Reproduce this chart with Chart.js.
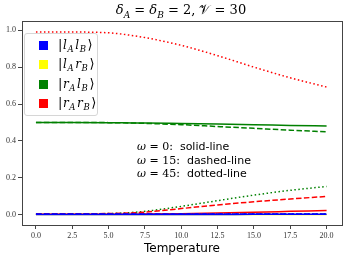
<!DOCTYPE html>
<html>
<head>
<meta charset="utf-8">
<script src="https://cdn.jsdelivr.net/npm/chart.js@4.4.1/dist/chart.umd.min.js"></script>
<style>
  body { margin: 0; background: #fff; }
  #wrap { position: relative; width: 348px; height: 259px; }
  #title { position: absolute; left: 0; width: 362px; top: 2px; text-align: center;
    font: 13px "DejaVu Serif", serif; color: #000; }
  #legend { position: absolute; left: 24px; top: 33px; width: 72px; height: 81px;
    border: 1px solid #d6d6d6; border-radius: 3px; background: rgba(255,255,255,0.85);
    font: italic 12px "DejaVu Serif", serif; }
  .row { position: absolute; left: 14px; height: 14px; line-height: 14px; white-space: nowrap; }
  .sw { display: inline-block; width: 9px; height: 9px; vertical-align: -1px; margin-right: 10px; }
  .lab { letter-spacing: 0.6px; }
  .lab sub { font-size: 8.5px; vertical-align: -3px; margin-right: 1px; }
  .lab .br { font-style: normal; font-size: 13px; }
  #note { position: absolute; left: 137px; top: 140px; font: 11px "DejaVu Sans", sans-serif; line-height: 13.5px; }
  #note i { font-family: "DejaVu Serif", serif; }
  #note .m { font-family: "DejaVu Serif", serif; }
</style>
</head>
<body>
<div id="wrap">
  <canvas id="c" width="348" height="259"></canvas>
  <div id="title"><i>δ</i><sub style="font-size:9px"><i>A</i></sub> = <i>δ</i><sub style="font-size:9px"><i>B</i></sub> = 2, 𝒱 = 30</div>
  <div id="legend"></div>
  <div id="note">
    <div><i>ω</i> <span class="m">= 0:</span>&nbsp; solid-line</div>
    <div><i>ω</i> <span class="m">= 15:</span>&nbsp; dashed-line</div>
    <div><i>ω</i> <span class="m">= 45:</span>&nbsp; dotted-line</div>
  </div>
</div>
<script>
// temperature grid
const temperature = [0, 2.5, 5, 6, 7.5, 10, 12.5, 15, 17.5, 20];
const xTicks = [0, 2.5, 5, 7.5, 10, 12.5, 15, 17.5, 20];
const yTicks = [0, 0.2, 0.4, 0.6, 0.8, 1.0];

const states = ['l_A l_B', 'l_A r_B', 'r_A l_B', 'r_A r_B'];
const stateColors = ['#0000ff', '#ffff00', '#008000', '#ff0000'];

// |l_A l_B>
const lAlB_w0  = [0.001, 0.001, 0.001, 0.001, 0.001, 0.001, 0.001, 0.002, 0.002, 0.002];
const lAlB_w15 = [0.003, 0.003, 0.003, 0.003, 0.003, 0.003, 0.004, 0.004, 0.004, 0.004];
const lAlB_w45 = [0.002, 0.002, 0.002, 0.002, 0.002, 0.003, 0.003, 0.003, 0.003, 0.004];
// |l_A r_B>
const lArB_w0  = [0.001, 0.001, 0.001, 0.001, 0.001, 0.001, 0.001, 0.001, 0.001, 0.001];
const lArB_w15 = [0.002, 0.002, 0.002, 0.002, 0.002, 0.002, 0.002, 0.002, 0.002, 0.002];
const lArB_w45 = [0.002, 0.002, 0.002, 0.002, 0.002, 0.002, 0.002, 0.002, 0.002, 0.002];
// |r_A l_B>
const rAlB_w0  = [0.500, 0.500, 0.499, 0.498, 0.497, 0.494, 0.491, 0.488, 0.484, 0.481];
const rAlB_w15 = [0.500, 0.500, 0.499, 0.498, 0.495, 0.488, 0.478, 0.468, 0.458, 0.449];
const rAlB_w45 = [0.005, 0.005, 0.006, 0.009, 0.018, 0.045, 0.076, 0.106, 0.132, 0.153];
// |r_A r_B>
const rArB_w0  = [0.002, 0.002, 0.002, 0.002, 0.003, 0.005, 0.009, 0.013, 0.018, 0.023];
const rArB_w15 = [0.005, 0.005, 0.006, 0.008, 0.014, 0.033, 0.053, 0.070, 0.085, 0.099];
const rArB_w45 = [0.990, 0.990, 0.986, 0.978, 0.960, 0.918, 0.862, 0.800, 0.742, 0.692];

const dashes = { w0: [], w15: [5.5, 2.4], w45: [1.5, 2.5] };

function series(values, color, dash, order) {
  return {
    data: temperature.map((t, i) => ({ x: t, y: values[i] })),
    borderColor: color,
    borderWidth: 1.5,
    borderDash: dash,
    pointRadius: 0,
    fill: false,
    cubicInterpolationMode: 'monotone',
    order: order
  };
}

const datasets = [
  series(lArB_w0, stateColors[1], dashes.w0, 12),
  series(lArB_w15, stateColors[1], dashes.w15, 11),
  series(lArB_w45, stateColors[1], dashes.w45, 10),
  series(rAlB_w0, stateColors[2], dashes.w0, 9),
  series(rAlB_w15, stateColors[2], dashes.w15, 8),
  series(rAlB_w45, stateColors[2], dashes.w45, 7),
  series(rArB_w0, stateColors[3], dashes.w0, 6),
  series(rArB_w15, stateColors[3], dashes.w15, 5),
  series(rArB_w45, stateColors[3], dashes.w45, 4),
  series(lAlB_w0, stateColors[0], dashes.w0, 3),
  series(lAlB_w15, stateColors[0], dashes.w15, 2),
  series(lAlB_w45, stateColors[0], dashes.w45, 1)
];

// legend
const legend = document.getElementById('legend');
states.forEach((s, i) => {
  const p = s.split(' ').map(t => t.split('_'));
  const row = document.createElement('div');
  row.className = 'row';
  row.style.top = (4 + i * 19.3) + 'px';
  row.innerHTML = '<span class="sw" style="background:' + stateColors[i] + '"></span>' +
    '<span class="lab"><span class="br">|</span>' + p.map(q => q[0] + '<sub>' + q[1] + '</sub>').join('') +
    '<span class="br">⟩</span></span>';
  legend.appendChild(row);
});

const frame = {
  id: 'frame',
  afterDraw(chart) {
    const a = chart.chartArea, ctx = chart.ctx;
    ctx.save();
    ctx.strokeStyle = '#444';
    ctx.lineWidth = 1;
    ctx.strokeRect(Math.round(a.left) + 0.5, Math.round(a.top) + 0.5,
      Math.round(a.right - a.left), Math.round(a.bottom - a.top));
    ctx.restore();
  }
};

const tickFont = { family: '"Liberation Serif", serif', size: 8 };

new Chart(document.getElementById('c'), {
  type: 'line',
  data: { datasets },
  plugins: [frame],
  options: {
    responsive: false,
    animation: false,
    layout: { padding: { left: 0, top: 21, right: 6, bottom: 0 } },
    plugins: { legend: { display: false }, tooltip: { enabled: false } },
    scales: {
      x: {
        type: 'linear', min: -0.96, max: 21.06,
        afterBuildTicks: s => { s.ticks = xTicks.map(v => ({ value: v })); },
        afterFit: s => { s.height = 34; },
        ticks: { font: tickFont, color: '#333', padding: 2, maxRotation: 0,
          callback: v => v.toFixed(1) },
        grid: { drawOnChartArea: false, tickLength: 4, color: '#444' },
        border: { color: '#444' },
        title: { display: true, text: 'Temperature', color: '#000',
          font: { family: '"DejaVu Sans", sans-serif', size: 12 }, padding: { top: 0, bottom: 3 } }
      },
      y: {
        min: -0.056, max: 1.05,
        afterBuildTicks: s => { s.ticks = yTicks.map(v => ({ value: v })); },
        afterFit: s => { s.width = 22; },
        ticks: { font: tickFont, color: '#333', padding: 2,
          callback: v => v.toFixed(1) },
        grid: { drawOnChartArea: false, tickLength: 4, color: '#444' },
        border: { color: '#444' }
      }
    }
  }
});
</script>
</body>
</html>
